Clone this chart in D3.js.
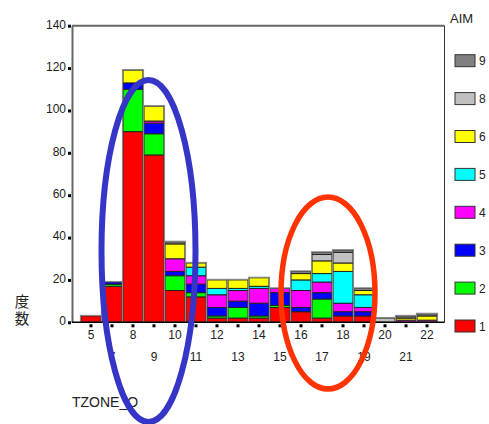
<!DOCTYPE html>
<html><head><meta charset="utf-8">
<script src="https://cdn.jsdelivr.net/npm/d3@7"></script>
<style>body{margin:0;background:#fff}svg{display:block}</style>
</head><body>
<svg id="chart" width="489" height="424"></svg>
<script>
const categories = ["5","7","8","9","10","11","12","13","14","15","16","17","18","19","20","21","22"];
const aim1 = [3,17,90,79,15,12,2,2,2,7,5,2,3,3,0,0,0];
const aim2 = [0,1,20,10,7,2,1,5,1,1,0,9,0,0,0,0,0];
const aim3 = [0,1,3,5,2,4,4,3,6,6,2,3,2,2,0,0,0];
const aim4 = [0,0,0,1,6,4,6,5,7,2,8,5,4,2,0,1,1];
const aim5 = [0,0,0,0,0,4,3,1,1,0,5,4,15,6,0,0,0];
const aim6 = [0,0,6,7,7,2,4,4,4,0,3,6,4,2,0,1,2];
const aim8 = [0,0,0,0,0,0,0,0,0,0,0,3,5,0,2,0,0];
const aim9 = [0,0,0,0,1,0,0,0,0,0,1,1,1,1,0,1,1];
const seriesKeys = ["1","2","3","4","5","6","8","9"];
const seriesValues = [aim1,aim2,aim3,aim4,aim5,aim6,aim8,aim9];
const seriesColors = ["#ff0000","#00ff00","#0000ff","#ff00ff","#00ffff","#ffff00","#c0c0c0","#808080"];
const yTicks = [0,20,40,60,80,100,120,140];

const rows = categories.map((c,i)=>{const r={cat:c}; seriesKeys.forEach((k,j)=>r[k]=seriesValues[j][i]); return r;});
const stack = d3.stack().keys(seriesKeys)(rows);

const svg = d3.select("#chart");
const x = d3.scaleBand().domain(categories).range([81,437]).paddingInner(0.05).paddingOuter(0);
const y = d3.scaleLinear().domain([0,140]).range([322.3,25.7]);
const color = d3.scaleOrdinal().domain(seriesKeys).range(seriesColors);

// frame
svg.append("line").attr("x1",72).attr("x2",444.5).attr("y1",25.7).attr("y2",25.7).attr("stroke","#666").attr("stroke-width",2);
svg.append("line").attr("x1",444.5).attr("x2",444.5).attr("y1",25.7).attr("y2",322.3).attr("stroke","#333").attr("stroke-width",1);

// bars
const g = svg.append("g");
stack.forEach(layer=>{
  g.selectAll(null).data(layer.filter(d=>d[1]-d[0]>0)).enter().append("rect")
    .attr("x",d=>x(d.data.cat)).attr("width",x.bandwidth())
    .attr("y",d=>y(d[1])).attr("height",d=>y(d[0])-y(d[1]))
    .attr("fill",color(layer.key)).attr("stroke","#222").attr("stroke-width",1);
});
// bar outlines
const totals = rows.map(r=>({cat:r.cat,total:d3.sum(seriesKeys,k=>r[k])}));
g.selectAll(null).data(totals).enter().append("rect")
  .attr("x",d=>x(d.cat)-0.5).attr("width",x.bandwidth()+1)
  .attr("y",d=>y(d.total)-0.5).attr("height",d=>y(0)-y(d.total)+0.5)
  .attr("fill","none").attr("stroke","#888").attr("stroke-width",1.2);

// y axis
const yAxis = d3.axisLeft(y).tickValues(yTicks).tickSize(0).tickPadding(6);
const ya = svg.append("g").attr("transform","translate(72,0)").call(yAxis);
ya.select(".domain").attr("stroke","#666").attr("stroke-width",2);
ya.selectAll("text").attr("font-family","Liberation Sans, Arial, sans-serif").attr("font-size",12).attr("fill","#222").attr("dy","0.2em");
ya.selectAll(".tick").append("rect").attr("x",-4).attr("y",-1.5).attr("width",3).attr("height",3).attr("fill","#000");

// x axis
const xAxis = d3.axisBottom(x).tickSize(0).tickPadding(8);
const xa = svg.append("g").attr("transform","translate(0,322.3)").call(xAxis);
xa.select(".domain").attr("stroke","#000").attr("stroke-width",1.5).attr("d","M72,0H444.5");
xa.selectAll("text").attr("font-family","Liberation Sans, Arial, sans-serif").attr("font-size",12).attr("fill","#222")
  .attr("dy",(d,i)=> i%2===0 ? "0.71em" : "2.6em");
xa.selectAll(".tick").append("rect").attr("x",-1.5).attr("y",2).attr("width",3).attr("height",3).attr("fill","#000");

// axis titles
svg.append("text").attr("x",22).attr("y",311).attr("text-anchor","middle")
  .attr("writing-mode","vertical-rl").style("writing-mode","vertical-rl").style("letter-spacing","2px")
  .attr("font-family","Noto Sans CJK JP, sans-serif").attr("font-size",14.5).attr("fill","#222").text("度数");
svg.append("text").attr("x",72).attr("y",407).attr("font-family","Liberation Sans, Arial, sans-serif")
  .attr("font-size",14).attr("fill","#222").text("TZONE_O");

// legend
svg.append("text").attr("x",450).attr("y",23).attr("font-family","Liberation Sans, Arial, sans-serif")
  .attr("font-size",13).attr("fill","#222").text("AIM");
const legendKeys = seriesKeys.slice().reverse();
const lg = svg.append("g");
legendKeys.forEach((k,i)=>{
  const cy = 60.7 + i*37.9;
  lg.append("rect").attr("x",455).attr("y",cy-6).attr("width",20).attr("height",12)
    .attr("fill",color(k)).attr("stroke","#333").attr("stroke-width",1);
  lg.append("text").attr("x",479).attr("y",cy+4.5).attr("font-family","Liberation Sans, Arial, sans-serif")
    .attr("font-size",12).attr("fill","#222").text(k);
});

// annotation ellipses
svg.append("ellipse").attr("cx",148.5).attr("cy",251).attr("rx",47).attr("ry",171)
  .attr("fill","none").attr("stroke","#3535c8").attr("stroke-width",6);
svg.append("ellipse").attr("cx",328).attr("cy",293).attr("rx",47).attr("ry",96)
  .attr("fill","none").attr("stroke","#ff3300").attr("stroke-width",5.5);
</script>
</body></html>
